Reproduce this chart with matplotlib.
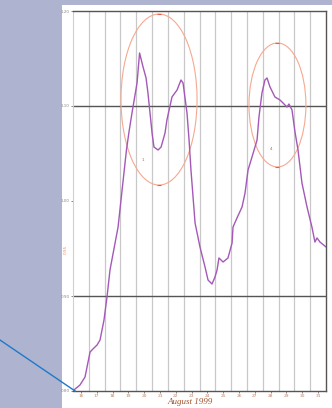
import numpy as np
import matplotlib.pyplot as plt
from matplotlib.patches import Ellipse, Rectangle

# dzienne notowania, sierpien 1999
days = [16.06, 16.44, 16.76, 17.08, 17.26, 17.52, 17.71, 17.96, 18.15, 18.34,
        18.85, 19.16, 19.38, 19.54, 19.73, 20.05, 20.21, 20.43, 20.62, 20.74,
        21.00, 21.12, 21.38, 21.57, 21.82, 21.94, 22.26, 22.58, 22.83, 22.96,
        23.21, 23.34, 23.46, 23.72, 24.03, 24.35, 24.54, 24.79, 24.98, 25.11,
        25.23, 25.49, 25.80, 26.06, 26.12, 26.37, 26.69, 26.88, 27.07, 27.32,
        27.64, 27.76, 27.95, 28.14, 28.27, 28.46, 28.77, 29.09, 29.28, 29.53,
        29.66, 29.85, 30.04, 30.23, 30.48, 30.80, 31.11, 31.30, 31.43, 31.62,
        32.00]
rate = [0.8011, 0.8063, 0.8147, 0.8411, 0.8442, 0.8484, 0.8537, 0.8747, 0.8989, 0.9274,
        0.9726, 1.0200, 1.0537, 1.0726, 1.0926, 1.1242, 1.1558, 1.1411, 1.1295, 1.1137,
        1.0716, 1.0568, 1.0537, 1.0568, 1.0716, 1.0853, 1.1095, 1.1168, 1.1274, 1.1242,
        1.0926, 1.0642, 1.0326, 0.9768, 0.9516, 0.9305, 0.9168, 0.9126, 0.9200, 0.9274,
        0.9400, 0.9358, 0.9400, 0.9558, 0.9726, 0.9821, 0.9937, 1.0084, 1.0326, 1.0463,
        1.0642, 1.0884, 1.1137, 1.1274, 1.1295, 1.1200, 1.1095, 1.1063, 1.1032, 1.0989,
        1.1021, 1.0958, 1.0726, 1.0537, 1.0189, 0.9937, 0.9726, 0.9568, 0.9611, 0.9568,
        0.9516]

# linia trendu wychodzaca poza wykres
trend_x = [11.38, 16.13]
trend_y = [0.8537, 0.8000]

# elipsy: srodek (dzien, kurs), szerokosc, wysokosc, etykieta i jej polozenie
ell_centers = [(21.44, 1.1068), (28.93, 1.1011)]
ell_widths = [4.81, 3.6]
ell_heights = [0.18, 0.1305]
ell_labels = ['1', '4']
ell_label_pos = [(20.43, 1.0432), (28.52, 1.0547)]

day_labels = [str(d) for d in range(16, 32)]
y_ticks = [0.80, 0.90, 1.00, 1.10, 1.20]

fig = plt.figure(figsize=(3.32, 4.08), dpi=100)
fig.patch.set_facecolor('#aeb4d0')
fig.add_artist(Rectangle((62/332, 0), 1 - 62/332, 403/408, transform=fig.transFigure,
                         facecolor='white', edgecolor='none', zorder=0))

ax = fig.add_axes([73/332, 17/408, 253/332, 380/408])
ax.set_xlim(16, 32)
ax.set_ylim(0.80, 1.20)
ax.patch.set_alpha(0)

for d in range(17, 32):
    ax.axvline(d, color='#c8c8c8', lw=0.9, zorder=1)
for v in [0.90, 1.10]:
    ax.axhline(v, color='#555555', lw=1.0, zorder=1)

ax.plot(days, rate, color='#a458b8', lw=1.0, zorder=3)
ax.plot(trend_x, trend_y, color='#1f78c8', lw=1.0, clip_on=False, zorder=4)

for (cx, cy), w, h, lab, (lx, ly) in zip(ell_centers, ell_widths, ell_heights,
                                         ell_labels, ell_label_pos):
    ax.add_patch(Ellipse((cx, cy), w, h, fill=False, edgecolor='#f7a890', lw=0.8, zorder=2))
    ax.plot([cx, cx], [cy + h/2, cy - h/2], ls='none', marker='_', ms=3,
            color='#e06050', mew=0.8, zorder=2)
    ax.text(lx, ly, lab, fontsize=3, color='#a07060', ha='center', va='center')

for s in ['top', 'bottom', 'right']:
    ax.spines[s].set_color('#555555')
    ax.spines[s].set_linewidth(1.0)
ax.spines['left'].set_color('#d0d0d0')

ax.set_yticks(y_ticks)
ax.set_yticklabels(['%.2f' % v for v in y_ticks], fontsize=3, color='#888888')
ax.set_xticks([d + 0.5 for d in range(16, 32)])
ax.set_xticklabels(day_labels, fontsize=3.2, color='#c08060')
ax.tick_params(axis='both', length=1.5, width=0.5, pad=1, colors='#555555')
for t in ax.get_xticklabels():
    t.set_color('#c08060')
for t in ax.get_yticklabels():
    t.set_color('#888888')

fig.text(66/332, 1 - 249/408, '0.95', rotation=90, fontsize=3, color='#e09070',
         ha='center', va='center')
fig.text(190/332, 1 - 398/408, 'August 1999', fontsize=6.5, color='#a0522d',
         family='Liberation Serif', style='italic', ha='center', va='top')

fig.savefig('out.png', dpi=100)
